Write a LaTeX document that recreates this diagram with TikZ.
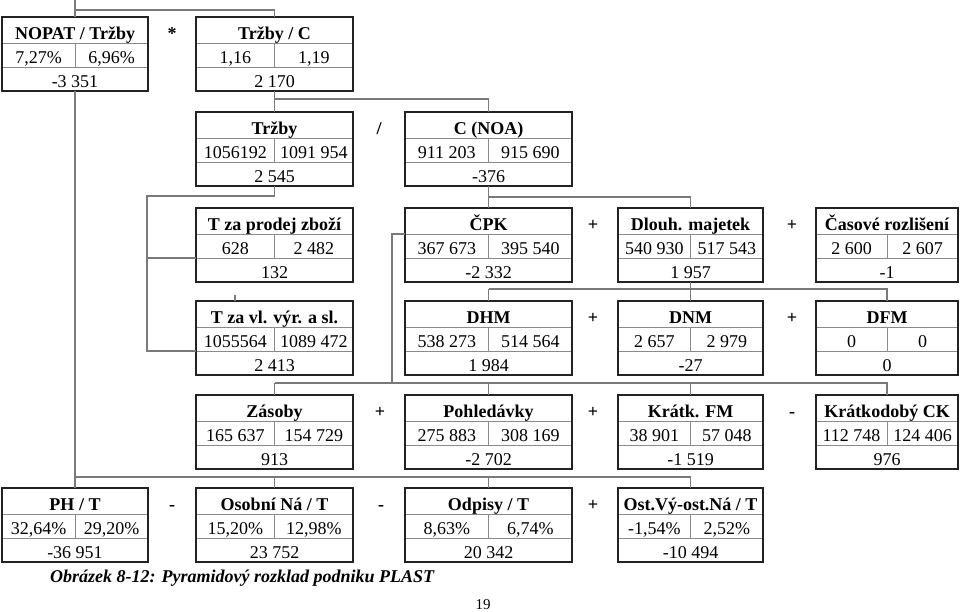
\documentclass[tikz,border=0pt]{standalone}
\usepackage{fontspec}
\setmainfont{Liberation Serif}
\definecolor{connc}{HTML}{7A7A7A}
\definecolor{innerc}{HTML}{8A8A8A}
\definecolor{outerc}{HTML}{222222}
\tikzset{
  conn/.style={draw=connc, line width=1.1pt},
  innerline/.style={draw=innerc, line width=0.9pt},
  outerbox/.style={draw=outerc, line width=1.8pt, inner sep=0pt, outer sep=0pt, minimum height=74pt},
  cellh/.style={inner sep=0pt, outer sep=0pt, minimum height=26pt, text height=19pt, text depth=0pt, font=\fontsize{18}{20}\selectfont\bfseries},
  cellv/.style={inner sep=0pt, outer sep=0pt, minimum height=24pt, text height=17pt, text depth=0pt, font=\fontsize{18}{20}\selectfont},
  cellw/.style={inner sep=0pt, outer sep=0pt, minimum height=24pt, text height=16pt, text depth=0pt, font=\fontsize{18}{20}\selectfont},
  opsign/.style={anchor=base, inner sep=0pt, font=\fontsize{18}{20}\selectfont\bfseries},
}
% name, x1, x2, ytop, header, left value, right value, difference
\newcommand\pbox[8]{%
  \pgfmathsetmacro\bw{#3-#2}%
  \pgfmathsetmacro\hw{(#3-#2)/2}%
  \node[cellh, minimum width=\bw pt, anchor=north west] (#1h) at (#2,#4) {#5};
  \node[cellv, minimum width=\hw pt, anchor=north west] (#1a) at (#2,#4+26) {#6};
  \node[cellv, minimum width=\hw pt, anchor=north east] (#1b) at (#3,#4+26) {#7};
  \node[cellw, minimum width=\bw pt, anchor=north west] (#1c) at (#2,#4+50) {#8};
  \draw[innerline] (#1h.south west) -- (#1h.south east);
  \draw[innerline] (#1c.north west) -- (#1c.north east);
  \draw[innerline] (#1a.north east) -- (#1a.south east);
  \node[outerbox, minimum width=\bw pt, anchor=north west] (#1) at (#2,#4) {};
}
\begin{document}
\begin{tikzpicture}[x=1pt, y=-1pt]
\useasboundingbox (0,0) rectangle (960,611);

% row A
\pbox{NOP}{2}{148}{17}{NOPAT / Tržby}{7,27\%}{6,96\%}{-3 351}
\pbox{TC}{196}{353}{17}{Tržby / C}{1,16}{1,19}{2 170}
% row B
\pbox{TRZ}{196}{353}{112}{Tržby}{1056192}{1091 954}{2 545}
\pbox{CNOA}{405}{572}{112}{C (NOA)}{911 203}{915 690}{-376}
% row C
\pbox{TZP}{196}{353}{208}{T za prodej zboží}{628}{2 482}{132}
\pbox{CPK}{405}{572}{208}{ČPK}{367 673}{395 540}{-2 332}
\pbox{DLM}{618}{763}{208}{Dlouh. majetek}{540 930}{517 543}{1 957}
\pbox{CAS}{816}{958}{208}{Časové rozlišení}{2 600}{2 607}{-1}
% row D
\pbox{TVL}{196}{353}{301}{T za vl. výr. a sl.}{1055564}{1089 472}{2 413}
\pbox{DHM}{405}{572}{301}{DHM}{538 273}{514 564}{1 984}
\pbox{DNM}{618}{763}{301}{DNM}{2 657}{2 979}{-27}
\pbox{DFM}{816}{958}{301}{DFM}{0}{0}{0}
% row E
\pbox{ZAS}{196}{353}{395}{Zásoby}{165 637}{154 729}{913}
\pbox{POH}{405}{572}{395}{Pohledávky}{275 883}{308 169}{-2 702}
\pbox{KFM}{618}{763}{395}{Krátk. FM}{38 901}{57 048}{-1 519}
\pbox{KCK}{816}{958}{395}{Krátkodobý CK}{112 748}{124 406}{976}
% row F
\pbox{PHT}{2}{148}{488}{PH / T}{32,64\%}{29,20\%}{-36 951}
\pbox{OSO}{196}{353}{488}{Osobní Ná / T}{15,20\%}{12,98\%}{23 752}
\pbox{ODP}{405}{572}{488}{Odpisy / T}{8,63\%}{6,74\%}{20 342}
\pbox{OST}{618}{763}{488}{Ost.Vý-ost.Ná / T}{-1,54\%}{2,52\%}{-10 494}

% operators
\node[opsign] (o1) at (172,39.5) {*};
\node[opsign] (o2) at (379,134.5) {/};
\node[opsign] (o3) at (593,230.5) {+};
\node[opsign] (o4) at (792,230.5) {+};
\node[opsign] (o5) at (593,323.5) {+};
\node[opsign] (o6) at (792,323.5) {+};
\node[opsign] (o7) at (380,417.5) {+};
\node[opsign] (o8) at (593,417.5) {+};
\node[opsign] (o9) at (792,417.5) {-};
\node[opsign] (o10) at (172,510.5) {-};
\node[opsign] (o11) at (381,510.5) {-};
\node[opsign] (o12) at (593,510.5) {+};

% helper coordinates
\coordinate (topin) at (75,0);
\coordinate (barA) at (0,10);
\coordinate (barB) at (0,99);
\coordinate (lx) at (147,196);
\coordinate (barC) at (0,197);
\coordinate (barD) at (0,289);
\coordinate (cx) at (392,0);
\coordinate (barE) at (0,383);
\coordinate (barF) at (0,477);
\coordinate (tick) at (235,295);

% connectors
\draw[conn] (topin) -- (NOP.north);
\draw[conn] (NOP.north |- barA) -| (TC.north);
\draw[conn] (NOP.south) -- (PHT.north);
\draw[conn] (PHT.north |- barF) -| (OST.north);
\draw[conn] (OSO.north |- barF) -- (OSO.north);
\draw[conn] (ODP.north |- barF) -- (ODP.north);

\draw[conn] (TC.south) -- (TRZ.north);
\draw[conn] (TRZ.north |- barB) -| (CNOA.north);

\draw[conn] (TRZ.south) |- (lx) -- (lx |- TVLc.north west) -- (TVLc.north west);
\draw[conn] (lx |- TZPc.north west) -- (TZPc.north west);
\draw[conn] (tick) -- (tick |- TVL.north);

\draw[conn] (CNOA.south) -- (CPK.north);
\draw[conn] (CPK.north |- barC) -| (DLM.north);

\draw[conn] (CPKh.south west) -- (cx |- CPKh.south west) -- (cx |- barE);
\draw[conn] (ZAS.north |- barE) -| (KCK.north);
\draw[conn] (ZAS.north |- barE) -- (ZAS.north);
\draw[conn] (POH.north |- barE) -- (POH.north);
\draw[conn] (KFM.north |- barE) -- (KFM.north);

\draw[conn] (DLM.south) -- (DNM.north);
\draw[conn] (DHM.north |- barD) -| (DFM.north);
\draw[conn] (DHM.north |- barD) -- (DHM.north);

% caption and page number
\node[anchor=base west, inner sep=0pt, font=\fontsize{18}{20}\selectfont\bfseries\itshape] (cap) at (50,582) {Obrázek 8-12: Pyramidový rozklad podniku PLAST};
\node[anchor=base, inner sep=0pt, font=\fontsize{15}{17}\selectfont] (pg) at (483,609) {19};
\end{tikzpicture}
\end{document}
